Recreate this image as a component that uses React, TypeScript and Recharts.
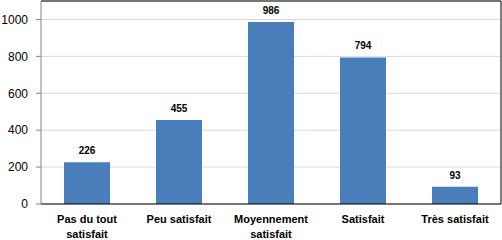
import { BarChart, Bar, XAxis, YAxis, CartesianGrid, LabelList, ReferenceLine } from 'recharts';

const categories = ['Pas du tout\nsatisfait', 'Peu satisfait', 'Moyennement\nsatisfait', 'Satisfait', 'Très satisfait'];
const counts = [226, 455, 986, 794, 93];
const yTicks = [0, 200, 400, 600, 800, 1000];

const data = categories.map((name, i) => ({ name, value: counts[i] }));

const FONT = '"Liberation Sans", Arial, sans-serif';

function CategoryTick({ x, y, payload }: { x?: number; y?: number; payload?: { value: string } }) {
  const lines = String(payload?.value ?? '').split('\n');
  return (
    <text x={x} y={(y ?? 0) + 11} textAnchor="middle" fill="#000" fontSize={11} fontWeight="bold" fontFamily={FONT}>
      {lines.map((line, i) => (
        <tspan key={i} x={x} dy={i === 0 ? 0 : 15}>
          {line}
        </tspan>
      ))}
    </text>
  );
}

export default function App() {
  return (
    <div style={{ position: 'absolute', left: 0, top: 0, width: 502, height: 240, background: '#fff' }}>
      <BarChart width={502} height={240} data={data} margin={{ top: 1, right: 0, bottom: 0, left: 0 }} barCategoryGap="25%">
        <CartesianGrid vertical={false} stroke="#d9d9d9" />
        <XAxis
          dataKey="name"
          height={36}
          interval={0}
          tickLine={false}
          axisLine={{ stroke: '#000' }}
          tick={<CategoryTick />}
        />
        <YAxis
          width={41}
          domain={[0, 1100]}
          ticks={yTicks}
          interval={0}
          tickSize={5}
          tickMargin={8}
          axisLine={{ stroke: '#868686' }}
          tickLine={{ stroke: '#868686' }}
          tick={{ fill: '#000', fontSize: 12, fontFamily: FONT }}
        />
        <YAxis
          yAxisId="right"
          orientation="right"
          width={1}
          domain={[0, 1100]}
          tick={false}
          tickLine={false}
          axisLine={{ stroke: '#000' }}
        />
        <ReferenceLine y={1100} stroke="#000" />
        <Bar dataKey="value" fill="#4a7ebb" isAnimationActive={false}>
          <LabelList dataKey="value" position="top" offset={8} fill="#000" fontSize={10} fontWeight="bold" fontFamily={FONT} />
        </Bar>
      </BarChart>
    </div>
  );
}
